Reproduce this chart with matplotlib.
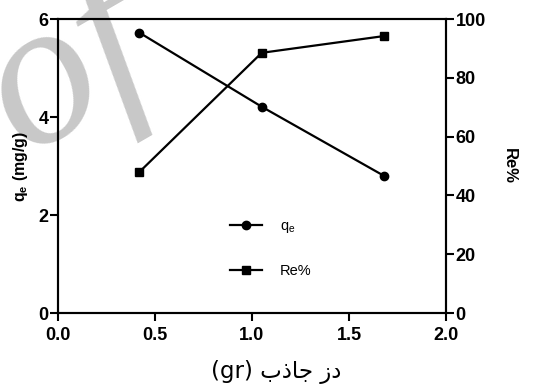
import matplotlib
matplotlib.use("Agg")
import matplotlib.pyplot as plt

# data
dose = [0.42, 1.05, 1.68]
qe = [5.72, 4.21, 2.80]
removal = [48.0, 88.5, 94.2]

plt.rcParams["font.family"] = "Liberation Sans"
plt.rcParams["mathtext.fontset"] = "custom"
plt.rcParams["mathtext.rm"] = "Liberation Sans"
plt.rcParams["mathtext.bf"] = "Liberation Sans:bold"

fig = plt.figure(figsize=(5.55, 3.92), dpi=100)
ax = fig.add_axes([0.1045, 0.2015, 0.6991, 0.75])
ax2 = ax.twinx()

# watermark
fig.text(-0.09, 0.62, "of", fontsize=150, color="#c8c8c8", family="Liberation Serif",
         style="italic", rotation=30, zorder=-1)

(l1,) = ax.plot(dose, qe, color="black", lw=1.6, marker="o", ms=6, clip_on=False)
(l2,) = ax2.plot(dose, removal, color="black", lw=1.6, marker="s", ms=6, clip_on=False)

ax.set_xlim(0, 2)
ax.set_ylim(0, 6)
ax2.set_ylim(0, 100)
ax.set_xticks([0.0, 0.5, 1.0, 1.5, 2.0])
ax.set_yticks([0, 2, 4, 6])
ax2.set_yticks([0, 20, 40, 60, 80, 100])

for a in (ax, ax2):
    for s in a.spines.values():
        s.set_linewidth(1.5)
    a.tick_params(width=1.5, length=6, labelsize=13, pad=1)
    for lab in a.get_xticklabels() + a.get_yticklabels():
        lab.set_fontweight("bold")
ax.tick_params(axis="x", pad=4)
ax.patch.set_visible(False)

ax.set_ylabel(r"$\mathbf{q_e}$ (mg/g)", fontsize=11.5, fontweight="bold", labelpad=6)
ax2.set_ylabel("Re%", fontsize=12, fontweight="bold", rotation=270, labelpad=22)

# Persian x label in visual order (presentation forms)
xlabel = "(gr) \ufe8f\ufeab\ufe8e\ufe9f \ufeaf\ufea9"
ax.set_xlabel(xlabel, fontsize=16.5, family="DejaVu Sans")
ax.xaxis.set_label_coords(0.562, -0.16)

leg = ax2.legend([l1, l2], [r"$\mathrm{q_e}$", "Re%"], loc="center",
                 bbox_to_anchor=(0.548, 0.22), frameon=False, fontsize=10.5,
                 handlelength=2.2, handletextpad=1.2, labelspacing=2.0)

fig.savefig("out.png", dpi=100)
